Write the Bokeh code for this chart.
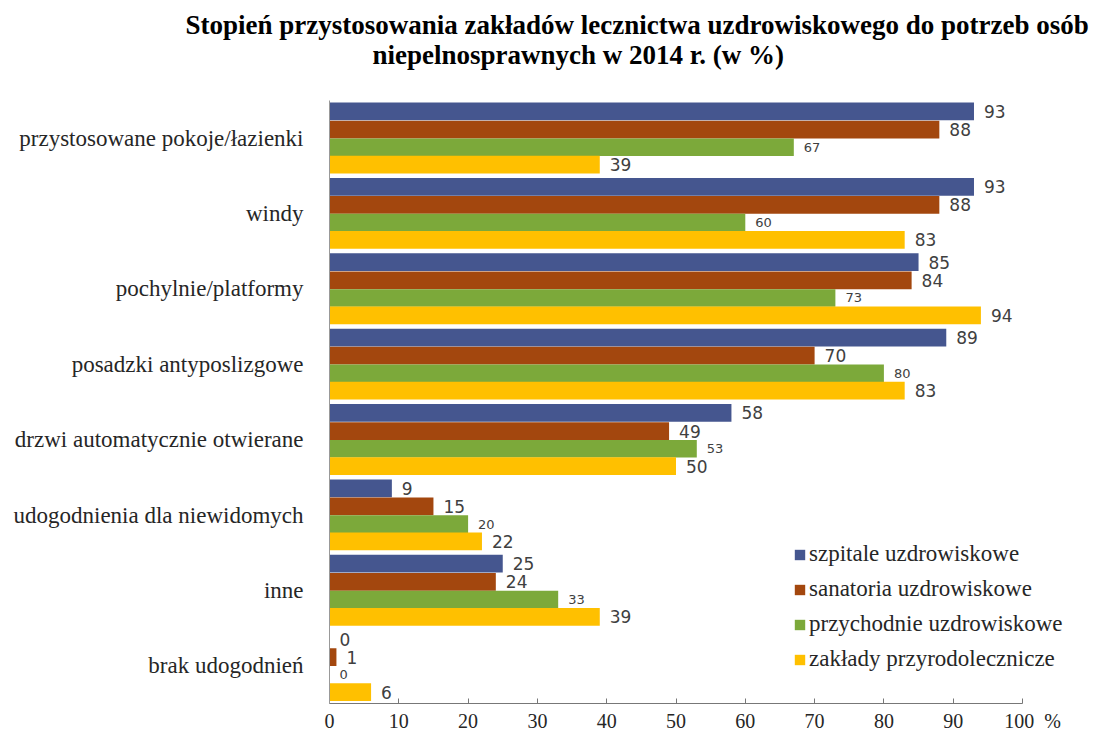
from bokeh.plotting import figure
from bokeh.models import FactorRange, Legend, LegendItem, ColumnDataSource, Title
from bokeh.transform import dodge
from bokeh.core.properties import value
from bokeh.embed import file_html
from bokeh.resources import INLINE

title_lines = ["Stopień przystosowania zakładów lecznictwa uzdrowiskowego do potrzeb osób",
               "niepelnosprawnych w 2014 r. (w %)"]
categories = ["przystosowane pokoje/łazienki", "windy", "pochylnie/platformy",
              "posadzki antyposlizgowe", "drzwi automatycznie otwierane",
              "udogodnienia dla niewidomych", "inne", "brak udogodnień"]
series = ["szpitale uzdrowiskowe", "sanatoria uzdrowiskowe",
          "przychodnie uzdrowiskowe", "zakłady przyrodolecznicze"]
szpitale = [93, 93, 85, 89, 58, 9, 25, 0]
sanatoria = [88, 88, 84, 70, 49, 15, 24, 1]
przychodnie = [67, 60, 73, 80, 53, 20, 33, 0]
zaklady = [39, 83, 94, 83, 50, 22, 39, 6]
x_ticks = [0, 10, 20, 30, 40, 50, 60, 70, 80, 90, 100]
x_unit = "%"

colors = ["#45568F", "#A3470E", "#7CA93A", "#FFC000"]
offsets = [0.355, 0.115, -0.12, -0.35]
label_sizes = ["17px", "17px", "13px", "17px"]
values_all = [szpitale, sanatoria, przychodnie, zaklady]

# frame spans 329..1094 px; value 100 sits at 1022 px
x_end = 100 * (1094 - 329) / (1022 - 329)

p = figure(width=1094, height=734, output_backend="svg", toolbar_location=None,
           y_range=FactorRange(*reversed(categories), range_padding=0, factor_padding=0),
           x_range=(0, x_end),
           min_border_left=329, min_border_right=0, min_border_top=100, min_border_bottom=27)
p.outline_line_color = None
p.grid.grid_line_color = None
p.background_fill_color = "white"

items = []
for s, vals, col, off, fs in zip(series, values_all, colors, offsets, label_sizes):
    src = ColumnDataSource(dict(cat=categories, val=vals, txt=[str(v) for v in vals]))
    r = p.hbar(y=dodge("cat", off, range=p.y_range), right="val", left=0, height=0.235,
               source=src, fill_color=col, line_color=None)
    items.append(LegendItem(label=s, renderers=[r]))
    p.text(x="val", y=dodge("cat", off, range=p.y_range), text="txt", source=src,
           x_offset=9, text_align="left", text_baseline="middle",
           text_font=value("DejaVu Sans"), text_font_size=fs, text_color="#404040",
           background_fill_color="white", padding=1)

legend = Legend(items=items, location=(464, 31), glyph_width=13, glyph_height=13,
                label_height=22, spacing=9, padding=0, margin=0, label_standoff=3,
                label_text_font="Liberation Serif", label_text_font_size="23px",
                label_text_color="#262626", border_line_color=None, background_fill_alpha=0)
p.add_layout(legend)

p.xaxis.ticker = x_ticks
p.xaxis.bounds = (0, 100)
p.xaxis.major_label_overrides = {100: "\u2007\u2007100\u2002" + x_unit}
p.xaxis.major_tick_in = 5
p.xaxis.major_tick_out = 0
p.xaxis.minor_tick_line_color = None
p.xaxis.axis_line_color = "#777777"
p.xaxis.major_tick_line_color = "#777777"
p.xaxis.major_label_text_font = "Liberation Serif"
p.xaxis.major_label_text_font_size = "20px"
p.xaxis.major_label_text_color = "#262626"
p.xaxis.major_label_standoff = 6

p.yaxis.axis_line_color = "#999999"
p.yaxis.major_tick_line_color = None
p.yaxis.major_label_text_font = "Liberation Serif"
p.yaxis.major_label_text_font_size = "23px"
p.yaxis.major_label_text_color = "#262626"
p.yaxis.major_label_standoff = 20

p.add_layout(Title(text=title_lines[1], align="left", offset=372 - 329, standoff=0,
                   padding=(0, 0, 0, 29), vertical_align="top",
                   text_font="Liberation Serif", text_font_style="bold",
                   text_font_size="27px", text_color="black"), "above")
p.add_layout(Title(text=title_lines[0], align="left", offset=185 - 329, standoff=0,
                   text_font="Liberation Serif", text_font_style="bold",
                   text_font_size="27px", text_color="black"), "above")

open("out.html", "w").write(file_html(p, INLINE))
